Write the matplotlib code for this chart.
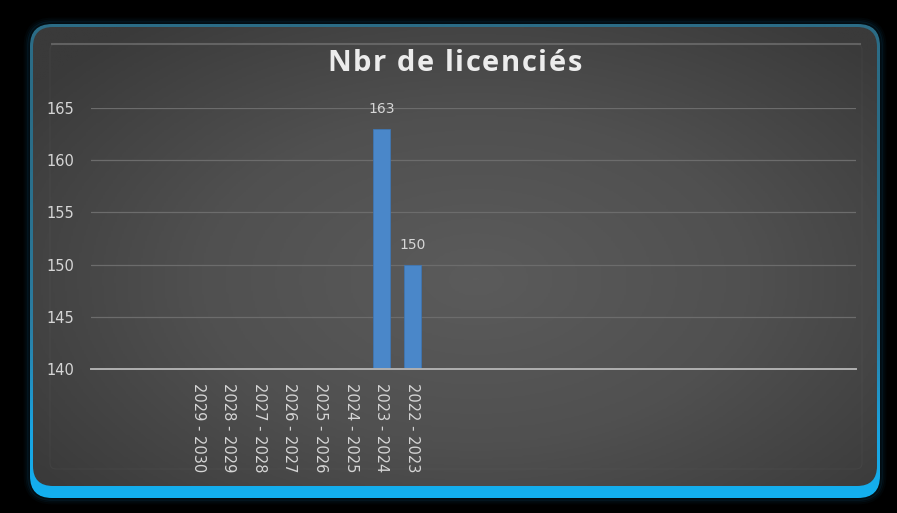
import numpy as np
import matplotlib
matplotlib.use("Agg")
import matplotlib.pyplot as plt
from matplotlib.patches import FancyBboxPatch
from matplotlib.colors import LinearSegmentedColormap
from matplotlib.font_manager import findfont, FontProperties
from matplotlib.ft2font import FT2Font

# ---- data ----
title = "Nbr de licenciés"
categories = ["", "", "",
              "2029 - 2030", "2028 - 2029", "2027 - 2028", "2026 - 2027",
              "2025 - 2026", "2024 - 2025", "2023 - 2024", "2022 - 2023",
              "", "", "", "", "", "", "", "", "", "", "", "", "", ""]
values = [None, None, None,
          None, None, None, None,
          None, None, 163, 150,
          None, None, None, None, None, None, None, None, None, None, None, None, None, None]
yticks = [140, 145, 150, 155, 160, 165]

W, H = 897, 513
fig = plt.figure(figsize=(W / 100, H / 100), dpi=100)
fig.patch.set_facecolor("black")

bg = fig.add_axes([0, 0, 1, 1])
bg.set_xlim(0, W)
bg.set_ylim(H, 0)
bg.axis("off")

# glow
for pad, a in [(5, 0.04), (3, 0.07), (1.5, 0.10)]:
    g = FancyBboxPatch((30, 24), 850, 474, boxstyle=f"round,pad={pad},rounding_size={22+pad}",
                       facecolor="none", edgecolor="#1a8cc8", linewidth=2, alpha=a)
    bg.add_patch(g)

# outer blue frame with vertical gradient
outer = FancyBboxPatch((30, 24), 850, 474, boxstyle="round,pad=0,rounding_size=22",
                       facecolor="none", edgecolor="none")
bg.add_patch(outer)
blue_cmap = LinearSegmentedColormap.from_list("b", ["#2b6c86", "#2a7fa5", "#1aa3e0", "#13b0f0"])
grad = np.linspace(0, 1, 256)[:, None] ** 2.5
im = bg.imshow(grad, cmap=blue_cmap, extent=(30, 880, 498, 24), aspect="auto", origin="upper", zorder=1)
im.set_clip_path(outer)

# gray panel with radial gradient
panel = FancyBboxPatch((33, 27), 844, 459, boxstyle="round,pad=0,rounding_size=20",
                       facecolor="none", edgecolor="none", zorder=2)
bg.add_patch(panel)
xx, yy = np.meshgrid(np.linspace(-1, 1, 400), np.linspace(-1, 1, 240))
r = np.sqrt(((xx - 0.05) / 1.0) ** 2 + ((yy - 0.1) / 1.1) ** 2)
gray_cmap = LinearSegmentedColormap.from_list("g", ["#5b5b5b", "#505050", "#3a3a3a"])
im2 = bg.imshow(np.clip(r, 0, 1.3), cmap=gray_cmap, extent=(33, 877, 486, 27), aspect="auto",
                origin="upper", zorder=2)
im2.set_clip_path(panel)

# bevel lines
bevel = FancyBboxPatch((50, 44), 812, 425, boxstyle="round,pad=0,rounding_size=6",
                       facecolor="none", edgecolor="#6a6a6a", linewidth=0.8, alpha=0.15, zorder=3)
bg.add_patch(bevel)
bg.plot([52, 860], [44, 44], color="#7a7a7a", lw=1.5, alpha=0.6, zorder=3)

# ---- main chart ----
lab_font = "DejaVu Sans"
lab_col = "#d6d6d6"
ax = fig.add_axes([91 / W, 1 - 369 / H, (856 - 91) / W, (369 - 108) / H])
ax.patch.set_alpha(0)
x = np.arange(len(categories))
vals = np.array([np.nan if v is None else v for v in values], dtype=float)
ax.bar(x, vals, width=0.55, color="#4a87c9", edgecolor="#3f76b2", linewidth=0.6, zorder=3)
for xi, v in zip(x, vals):
    if not np.isnan(v):
        ax.annotate(f"{int(v)}", (xi, v), xytext=(0, 14), textcoords="offset points",
                    ha="center", va="center", color=lab_col, fontsize=10, family=lab_font)

ax.set_xlim(-0.5, len(categories) - 0.5)
ax.set_ylim(yticks[0], yticks[-1])
ax.set_yticks(yticks)
ax.set_xticks(x)
ax.set_xticklabels(categories, rotation=-90, color=lab_col, fontsize=10.5, family=lab_font)
ax.tick_params(axis="y", length=0, pad=12, labelcolor=lab_col, labelsize=10.5)
ax.tick_params(axis="x", length=0, pad=10)
for lab in ax.get_yticklabels():
    lab.set_family(lab_font)
ax.grid(axis="y", color="#6c6c6c", linewidth=0.9, zorder=0)
for s in ["top", "right", "left"]:
    ax.spines[s].set_visible(False)
ax.spines["bottom"].set_color("#b0b0b0")
ax.spines["bottom"].set_linewidth(1.4)
ax.spines["bottom"].set_zorder(4)

# ---- title with letter spacing ----
tsize = 21
fp = FontProperties(family="Open Sans", weight="bold", size=tsize)
ft = FT2Font(findfont(fp))
ft.set_size(tsize, 100)
adv = [ft.load_char(ord(c)).linearHoriAdvance / 65536 for c in title]
target_w = 255.0
spacing = (target_w - sum(adv)) / (len(title) - 1)
xpos = 454.5 - target_w / 2
for c, a in zip(title, adv):
    bg.text(xpos, 71, c, ha="left", va="baseline", color="#ececec", fontproperties=fp, zorder=5)
    xpos += a + spacing

fig.savefig("out.png", dpi=100, facecolor="black")
